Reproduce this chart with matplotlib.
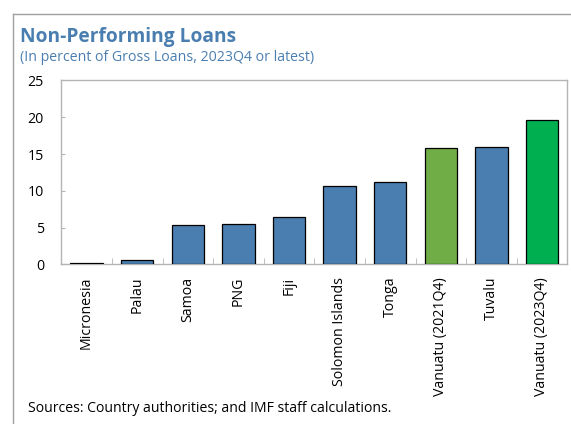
import matplotlib
matplotlib.use('Agg')
import matplotlib.pyplot as plt
from matplotlib.lines import Line2D

plt.rcParams['font.family'] = ['Open Sans', 'DejaVu Sans']

# NPL ratios, percent of gross loans
countries = ['Micronesia', 'Palau', 'Samoa', 'PNG', 'Fiji', 'Solomon Islands',
             'Tonga', 'Vanuatu (2021Q4)', 'Tuvalu', 'Vanuatu (2023Q4)']
npl = [0.2, 0.6, 5.4, 5.45, 6.5, 10.65, 11.2, 15.85, 15.95, 19.65]
bar_colors = ['#4a7eb0'] * 7 + ['#70ad47', '#4a7eb0', '#00b050']

title_color = '#4a7eb0'
grey = '#b4b4b4'

fig = plt.figure(figsize=(5.71, 4.24), dpi=100)
ax = fig.add_axes([61.3 / 571, 1 - 264.3 / 424, (567.3 - 61.3) / 571, (264.3 - 80.5) / 424])

x = list(range(len(countries)))
ax.bar(x, npl, width=0.64, color=bar_colors, edgecolor='black', linewidth=0.9, zorder=3)

ax.set_xlim(-0.5, len(countries) - 0.5)
ax.set_ylim(0, 25)
ax.set_yticks([0, 5, 10, 15, 20, 25])
ax.tick_params(axis='y', direction='in', length=3, color=grey, labelsize=10.2, pad=12.5)

# category labels, with small separators between bars
ax.set_xticks(x)
ax.set_xticklabels(countries, rotation=90, fontsize=10.2)
ax.tick_params(axis='x', length=0, pad=9)
ax.set_xticks([i + 0.5 for i in x[:-1]], minor=True)
ax.tick_params(axis='x', which='minor', direction='in', length=4, color=grey)

for s in ax.spines.values():
    s.set_color(grey)
    s.set_linewidth(1)

fig.text(20 / 571, 1 - 42 / 424, 'Non-Performing Loans', fontsize=13.8, fontweight='bold',
         color=title_color, va='baseline')
fig.text(20 / 571, 1 - 61 / 424, '(In percent of Gross Loans, 2023Q4 or latest)', fontsize=10.2,
         color=title_color, va='baseline')
fig.text(28 / 571, 1 - 408 / 424, 'Sources: Country authorities; and IMF staff calculations.',
         fontsize=10.1, va='center')

# frame around the panel
bx, by = 12.7 / 571, 1 - 13.7 / 424
fig.add_artist(Line2D([bx, bx], [0, by], color='#a0a0a0', lw=1))
fig.add_artist(Line2D([bx, 1], [by, by], color='#a0a0a0', lw=1))

fig.savefig('out.png', dpi=100)
